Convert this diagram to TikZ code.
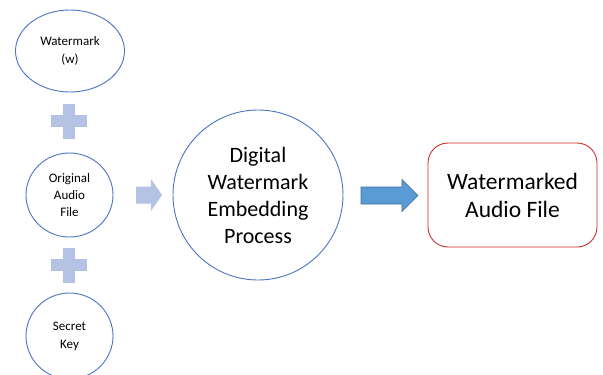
\documentclass[tikz,border=0pt]{standalone}
\usepackage{fontspec}
\setmainfont{Carlito}
\usetikzlibrary{shapes.geometric}
\definecolor{ringblue}{RGB}{75,118,196}
\definecolor{paleblue}{RGB}{180,194,228}
\definecolor{arrowblue}{RGB}{91,155,213}
\definecolor{arrowedge}{RGB}{65,113,156}
\definecolor{boxred}{RGB}{205,45,45}
\tikzset{
  inputnode/.style={ellipse, draw=ringblue, line width=0.9pt, inner sep=0pt,
    align=center, font=\fontsize{13}{18}\selectfont},
  bigtext/.style={font=\fontsize{22}{27}\selectfont, align=center},
  plusmark/.style={fill=paleblue, draw=none},
}
\begin{document}
\begin{tikzpicture}[x=1pt, y=-1pt]
  \useasboundingbox (0,0) rectangle (603,375);
  \clip (0,0) rectangle (603,375);
  \fill[white] (0,0) rectangle (603,375);

  % inputs on the left
  \node[inputnode, minimum width=109pt, minimum height=82pt] (wm) at (70,51) {Watermark\\(w)};
  \node[inputnode, minimum width=87pt, minimum height=84pt, font=\fontsize{13}{17}\selectfont] (orig) at (69.5,195) {Original\\Audio\\File};
  \node[inputnode, minimum width=87pt, minimum height=86pt] (key) at (69.5,336) {Secret\\Key};

  % plus signs between the inputs
  \coordinate (p1) at (68.5,121);
  \coordinate (p2) at (68.5,265);
  \foreach \p in {p1,p2}{
    \fill[plusmark] ([shift={(-18,-6)}]\p) rectangle ([shift={(18,6)}]\p);
    \fill[plusmark] ([shift={(-6,-17.5)}]\p) rectangle ([shift={(6,17.5)}]\p);
  }

  % embedding process
  \node[circle, draw=ringblue, line width=0.9pt, minimum size=170pt, inner sep=0pt, bigtext] (proc) at (258,195)
    {Digital\\Watermark\\Embedding\\Process};

  % output
  \node[draw=boxred, line width=0.9pt, rounded corners=20pt, minimum width=169pt, minimum height=104pt,
        font=\fontsize{23.5}{28}\selectfont, align=center] (out) at (512.5,195)
    {Watermarked\\Audio File};

  % pale arrow into the process
  \coordinate (a1) at (136,195);
  \fill[paleblue] (a1) ++(0,-8.5) -- ++(15,0) -- ++(0,-7.5) -- ++(11,16) -- ++(-11,16) -- ++(0,-7.5) -- ++(-15,0) -- cycle;

  % blue arrow to the output
  \coordinate (a2) at (361,195.5);
  \filldraw[fill=arrowblue, draw=arrowedge, line width=0.6pt]
    (a2) ++(0,-8.5) -- ++(41,0) -- ++(0,-7.5) -- ++(16,16) -- ++(-16,16) -- ++(0,-7.5) -- ++(-41,0) -- cycle;
\end{tikzpicture}
\end{document}
